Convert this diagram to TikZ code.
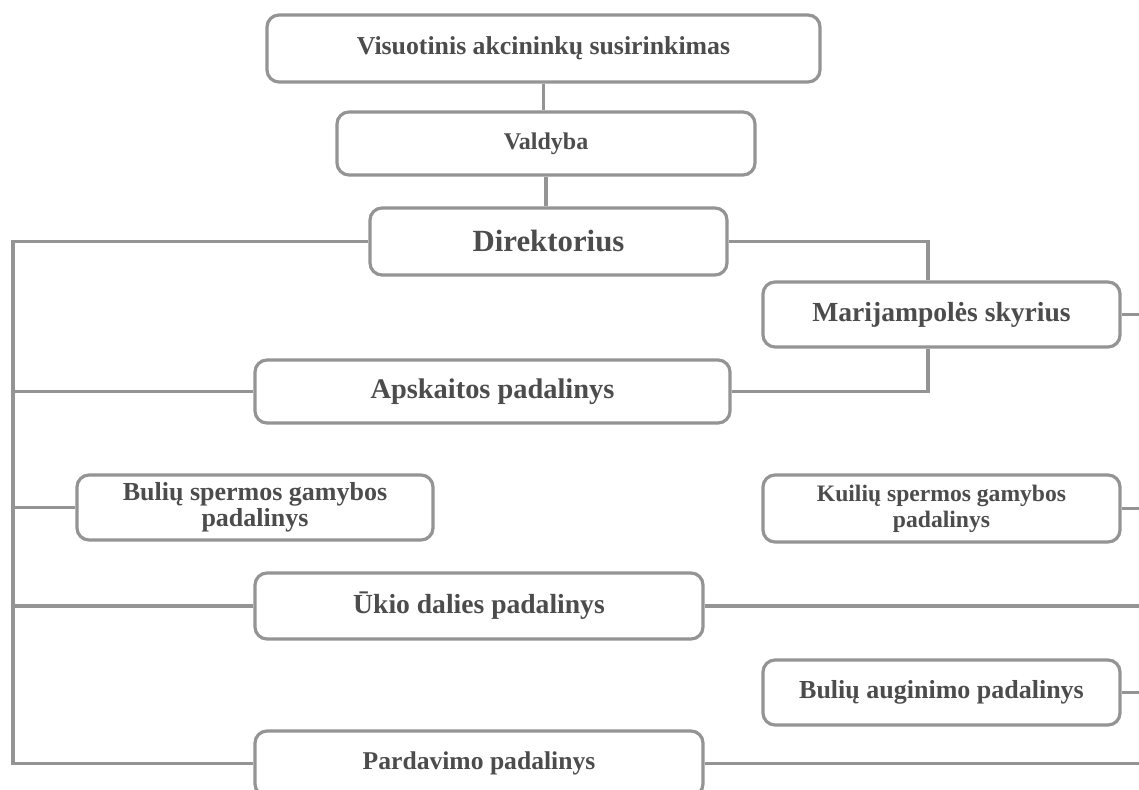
\documentclass[tikz,border=0pt]{standalone}
\usepackage{fontspec}
\setmainfont{Liberation Serif}
\begin{document}
\begin{tikzpicture}[x=0.5pt,y=-0.5pt,
  line/.style={draw=black!42,line width=1.6pt},
  box/.style={draw=black!42,line width=1.6pt,rounded corners=6pt,fill=white,
    inner sep=0pt,align=center,text=black!70,font=\bfseries},
]
\useasboundingbox (0,0) rectangle (1139,790);
% nodes
\node[box,minimum width=276.5pt,minimum height=33.5pt,font=\bfseries\fontsize{12.9}{14}\selectfont] (V) at (543.5,48.5) {Visuotinis akcininkų susirinkimas};
\node[box,minimum width=209pt,minimum height=31.5pt,font=\bfseries\fontsize{12}{13}\selectfont] (Val) at (546,143.5) {Valdyba};
\node[box,minimum width=178.5pt,minimum height=33.5pt,font=\bfseries\fontsize{15.4}{17}\selectfont] (Dir) at (548.5,241.5) {Direktorius};
\node[box,minimum width=178.5pt,minimum height=32.5pt,font=\bfseries\fontsize{13.8}{16}\selectfont] (Mar) at (941.5,314.5) {Marijampolės skyrius};
\node[box,minimum width=237.5pt,minimum height=31.5pt,font=\bfseries\fontsize{14.2}{16}\selectfont] (Aps) at (492.5,391.5) {Apskaitos padalinys};
\node[box,minimum width=178pt,minimum height=32.5pt,font=\bfseries\fontsize{13}{13}\selectfont] (BSp) at (255,507.5) {Bulių spermos gamybos\\padalinys};
\node[box,minimum width=178.5pt,minimum height=33.5pt,font=\bfseries\fontsize{11.8}{13}\selectfont] (KSp) at (941.5,508.5) {Kuilių spermos gamybos\\padalinys};
\node[box,minimum width=224pt,minimum height=33pt,font=\bfseries\fontsize{13.8}{16}\selectfont] (Uk) at (479,606) {Ūkio dalies padalinys};
\node[box,minimum width=178.5pt,minimum height=32.5pt,font=\bfseries\fontsize{13}{15}\selectfont] (BAu) at (941.5,692.5) {Bulių auginimo padalinys};
\node[box,minimum width=224pt,minimum height=32.5pt,font=\bfseries\fontsize{12.8}{15}\selectfont] (Par) at (479,763.5) {Pardavimo padalinys};
% helper coordinates
\coordinate (busL) at (13,0);
\coordinate (busR) at (1139,0);
\coordinate (jx) at (928,0);
% connectors
\draw[line] (V.south) -- (V.south |- Val.north);
\draw[line] (Val.south) -- (Val.south |- Dir.north);
\draw[line] (Dir.west) -- (Dir.west -| busL) -- (Par.west -| busL) -- (Par.west);
\draw[line] (Aps.west) -- (Aps.west -| busL);
\draw[line] (BSp.west) -- (BSp.west -| busL);
\draw[line] (Uk.west) -- (Uk.west -| busL);
\draw[line] (Dir.east) -| (Mar.north -| jx);
\draw[line] (Aps.east) -| (Mar.south -| jx);
\draw[line] (Mar.east) -- (Mar.east -| busR);
\draw[line] (KSp.east) -- (KSp.east -| busR);
\draw[line] (Uk.east) -- (Uk.east -| busR);
\draw[line] (BAu.east) -- (BAu.east -| busR);
\draw[line] (Par.east) -- (Par.east -| busR);
\end{tikzpicture}
\end{document}
